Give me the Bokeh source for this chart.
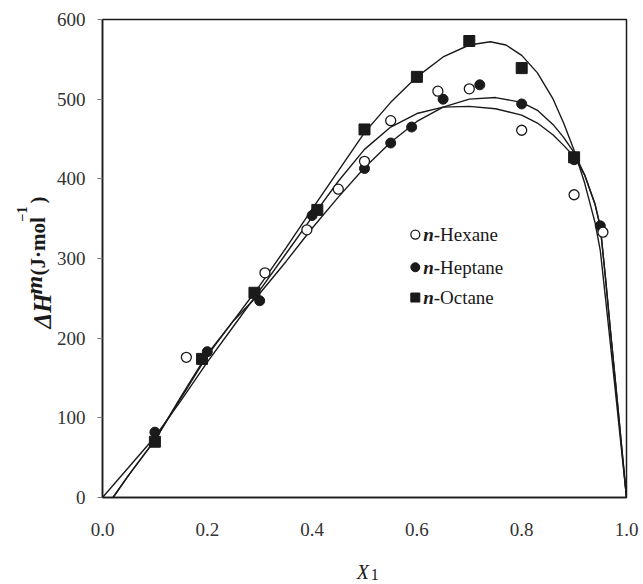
from math import pi
from bokeh.plotting import figure
from bokeh.layouts import row, column
from bokeh.models import FixedTicker, Label, NumeralTickFormatter
from bokeh.core.properties import value
from bokeh.embed import file_html
from bokeh.resources import INLINE

# ---- data ----
hex_x = [0.16, 0.31, 0.39, 0.45, 0.50, 0.55, 0.64, 0.70, 0.80, 0.90, 0.955]
hex_y = [176, 282, 336, 387, 422, 473, 510, 513, 461, 380, 333]

hep_x = [0.10, 0.20, 0.30, 0.40, 0.50, 0.55, 0.59, 0.65, 0.72, 0.80, 0.90, 0.95]
hep_y = [82, 183, 247, 354, 413, 445, 465, 500, 518, 494, 424, 341]

oct_x = [0.10, 0.19, 0.29, 0.41, 0.50, 0.60, 0.70, 0.80, 0.90]
oct_y = [70, 174, 257, 361, 462, 528, 573, 539, 427]

# fitted curves
hexc_x = [0.0, 0.05, 0.10, 0.15, 0.20, 0.25, 0.30, 0.35, 0.40, 0.45, 0.50, 0.55, 0.60, 0.65, 0.70,
          0.75, 0.80, 0.83, 0.86, 0.88, 0.90, 0.92, 0.94, 0.95, 0.96, 0.97, 0.98, 0.99, 1.0]
hexc_y = [0, 38, 76, 122, 170, 215, 260, 306, 352, 397, 437, 465, 482, 490, 491,
          488, 480, 470, 455, 442, 428, 405, 368, 340, 275, 205, 138, 69, 0]

hepc_x = [0.02, 0.05, 0.10, 0.15, 0.20, 0.25, 0.30, 0.35, 0.40, 0.45, 0.50, 0.55, 0.60, 0.65, 0.70,
          0.75, 0.80, 0.83, 0.86, 0.88, 0.90, 0.92, 0.94, 0.95, 0.96, 0.97, 0.98, 0.99, 1.0]
hepc_y = [0, 28, 72, 127, 180, 222, 256, 296, 338, 377, 414, 446, 472, 490, 500,
          502, 496, 486, 468, 452, 433, 405, 368, 340, 275, 205, 138, 69, 0]

octc_x = [0.02, 0.05, 0.10, 0.15, 0.20, 0.25, 0.30, 0.35, 0.40, 0.45, 0.50, 0.55, 0.60, 0.65, 0.70,
          0.74, 0.77, 0.80, 0.83, 0.86, 0.88, 0.90, 0.92, 0.94, 0.95, 0.96, 0.97, 0.98, 0.99, 1.0]
octc_y = [0, 28, 72, 125, 178, 222, 266, 313, 362, 410, 458, 496, 528, 553, 568,
          572, 568, 555, 533, 500, 470, 436, 395, 345, 310, 250, 188, 126, 63, 0]

x_ticks = [0.0, 0.2, 0.4, 0.6, 0.8, 1.0]
y_ticks = [0, 100, 200, 300, 400, 500, 600]
legend_names = ["-Hexane", "-Heptane", "-Octane"]

SERIF = "Liberation Serif"
INK = "#1a1a1a"

# ---------------- main plot ----------------
p = figure(width=590, height=552, x_range=(0, 1), y_range=(0, 600),
           output_backend="svg", toolbar_location=None,
           min_border_left=47, min_border_right=17, min_border_top=19, min_border_bottom=55)
p.grid.visible = False
p.outline_line_color = INK
p.outline_line_width = 1.5
p.background_fill_color = "white"
p.border_fill_color = "white"

for ax in (p.xaxis[0], p.yaxis[0]):
    ax.axis_line_color = INK
    ax.axis_line_width = 1.5
    ax.major_label_text_font = SERIF
    ax.major_label_text_font_size = "19px"
    ax.major_label_text_color = "#333333"
    ax.minor_tick_line_color = None

p.xaxis.ticker = FixedTicker(ticks=x_ticks)
p.xaxis.formatter = NumeralTickFormatter(format="0.0")
p.xaxis.major_tick_line_color = None
p.xaxis.major_tick_out = 0
p.xaxis.major_tick_in = 0
p.xaxis.major_label_standoff = 25

p.yaxis.ticker = FixedTicker(ticks=y_ticks)
p.yaxis.major_tick_out = 5
p.yaxis.major_tick_in = 0
p.yaxis.major_tick_line_color = "#777777"
p.yaxis.major_label_standoff = 12

for cx, cy in ((hexc_x, hexc_y), (hepc_x, hepc_y), (octc_x, octc_y)):
    p.line(cx, cy, line_color=INK, line_width=1.4)

p.scatter(oct_x, oct_y, marker="square", size=11, fill_color=INK, line_color=INK)
p.scatter(hep_x, hep_y, marker="circle", size=10, fill_color=INK, line_color=INK)
p.scatter(hex_x, hex_y, marker="circle", size=10, fill_color="white", line_color=INK, line_width=1.3)

# legend (manual, to allow bold-italic "n")
leg_y = [330, 289, 251]
p.scatter([0.597], [leg_y[0]], marker="circle", size=9, fill_color="white", line_color=INK, line_width=1.3)
p.scatter([0.597], [leg_y[1]], marker="circle", size=9, fill_color=INK, line_color=INK)
p.scatter([0.597], [leg_y[2]], marker="square", size=9, fill_color=INK, line_color=INK)
for yy, name in zip(leg_y, legend_names):
    p.add_layout(Label(x=0.612, y=yy, text="n", text_font=SERIF, text_font_size="19px",
                       text_font_style="bold italic", text_baseline="middle", text_color=INK))
    p.add_layout(Label(x=0.632, y=yy, text=name, text_font=SERIF, text_font_size="19px",
                       text_baseline="middle", text_color=INK))


def blank(fig):
    fig.grid.visible = False
    fig.outline_line_color = None
    fig.background_fill_color = "white"
    fig.border_fill_color = "white"
    return fig


# ---------------- y-axis title panel (pixel coordinates) ----------------
left = blank(figure(width=53, height=584, x_range=(0, 53), y_range=(0, 584),
                    x_axis_type=None, y_axis_type=None, output_backend="svg",
                    toolbar_location=None, min_border=0))


def ylab(x, y, text, size, style):
    left.text(x=[x], y=[y], text=[text], angle=pi / 2, text_font=value(SERIF),
              text_font_size=size, text_font_style=style, text_align="left",
              text_baseline="alphabetic", text_color=INK)


ylab(42, 256, "ΔH", "25px", "bold italic")
ylab(33, 290, "m", "24px", "bold italic")
ylab(37, 309, "(J·mol", "21px", "bold")
ylab(21, 363, "−1", "14px", "bold")
ylab(37, 381, ")", "21px", "bold")

# ---------------- x-axis title panel (shares the main x scale) ----------------
bottom = blank(figure(width=590, height=32, x_range=p.x_range, y_range=(0, 32),
                      x_axis_type=None, y_axis_type=None, output_backend="svg",
                      toolbar_location=None, min_border_left=47, min_border_right=17,
                      min_border_top=0, min_border_bottom=0))
bottom.text(x=[0.485], y=[13], text=["X"], text_font=value(SERIF), text_font_size="20px",
            text_font_style="italic", text_align="left", text_baseline="alphabetic", text_color=INK)
bottom.text(x=[0.512], y=[10], text=["1"], text_font=value(SERIF), text_font_size="16px",
            text_align="left", text_baseline="alphabetic", text_color=INK)

layout = row(left, column(p, bottom, spacing=0), spacing=0)

open("out.html", "w").write(file_html(layout, INLINE))
